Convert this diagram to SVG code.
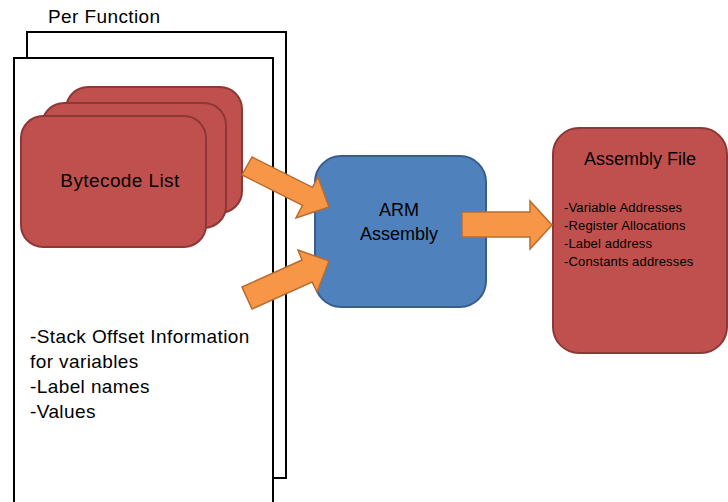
<svg xmlns="http://www.w3.org/2000/svg" width="728" height="502" viewBox="0 0 728 502">
  <style>
    .page { fill: #ffffff; stroke: #000000; stroke-width: 2; }
    .red { fill: #C0504D; stroke: #8C3836; stroke-width: 2; }
    .blue { fill: #4F81BD; stroke: #385D8A; stroke-width: 2; }
    .arrow { fill: #F79646; stroke: #B66D31; stroke-width: 1.5; stroke-linejoin: miter; }
    text { font-family: "Liberation Sans", Arial, sans-serif; fill: #000000; }
    .big { font-size: 18px; }
    .wide { font-size: 19px; letter-spacing: 0.4px; }
    .small { font-size: 13px; letter-spacing: 0.15px; }
  </style>

  <!-- stacked pages: one per function -->
  <g id="per-function">
    <text class="wide" x="48" y="23">Per Function</text>
    <rect class="page" x="27" y="32" width="259" height="446"/>
    <rect class="page" x="14" y="58" width="259" height="460"/>
    <text class="wide" x="30" y="343">-Stack Offset Information</text>
    <text class="wide" x="30" y="368">for variables</text>
    <text class="wide" x="30" y="393">-Label names</text>
    <text class="wide" x="30" y="418">-Values</text>
  </g>

  <!-- stacked bytecode cards -->
  <g id="bytecode-list">
    <rect class="red" x="66" y="87" width="176" height="126" rx="22"/>
    <rect class="red" x="42" y="103" width="184" height="125" rx="22"/>
    <rect class="red" x="21" y="116" width="185" height="131" rx="22"/>
    <text class="wide" x="120" y="187" text-anchor="middle">Bytecode List</text>
  </g>

  <g id="arm-assembly">
    <rect class="blue" x="315" y="156" width="171" height="151" rx="26"/>
    <text class="big" x="399" y="216" text-anchor="middle">ARM</text>
    <text class="big" x="399" y="240" text-anchor="middle">Assembly</text>
  </g>

  <g id="assembly-file">
    <rect class="red" x="553" y="128" width="174" height="225" rx="26"/>
    <text class="big" x="640" y="165" text-anchor="middle">Assembly File</text>
    <text class="small" x="564" y="212">-Variable Addresses</text>
    <text class="small" x="564" y="230">-Register Allocations</text>
    <text class="small" x="564" y="248">-Label address</text>
    <text class="small" x="564" y="266">-Constants addresses</text>
  </g>

  <!-- block arrows -->
  <g id="connectors">
    <polygon class="arrow" points="252,157 312.5,187.3 318,177 329,207 296,218 302.5,205.3 242,175"/>
    <polygon class="arrow" points="242,287 302,260 298,250 329,261 317,292 312,282 252,309"/>
    <polygon class="arrow" points="462,212 530,212 530,201 552,225 530,249 530,237 462,237"/>
  </g>
</svg>
